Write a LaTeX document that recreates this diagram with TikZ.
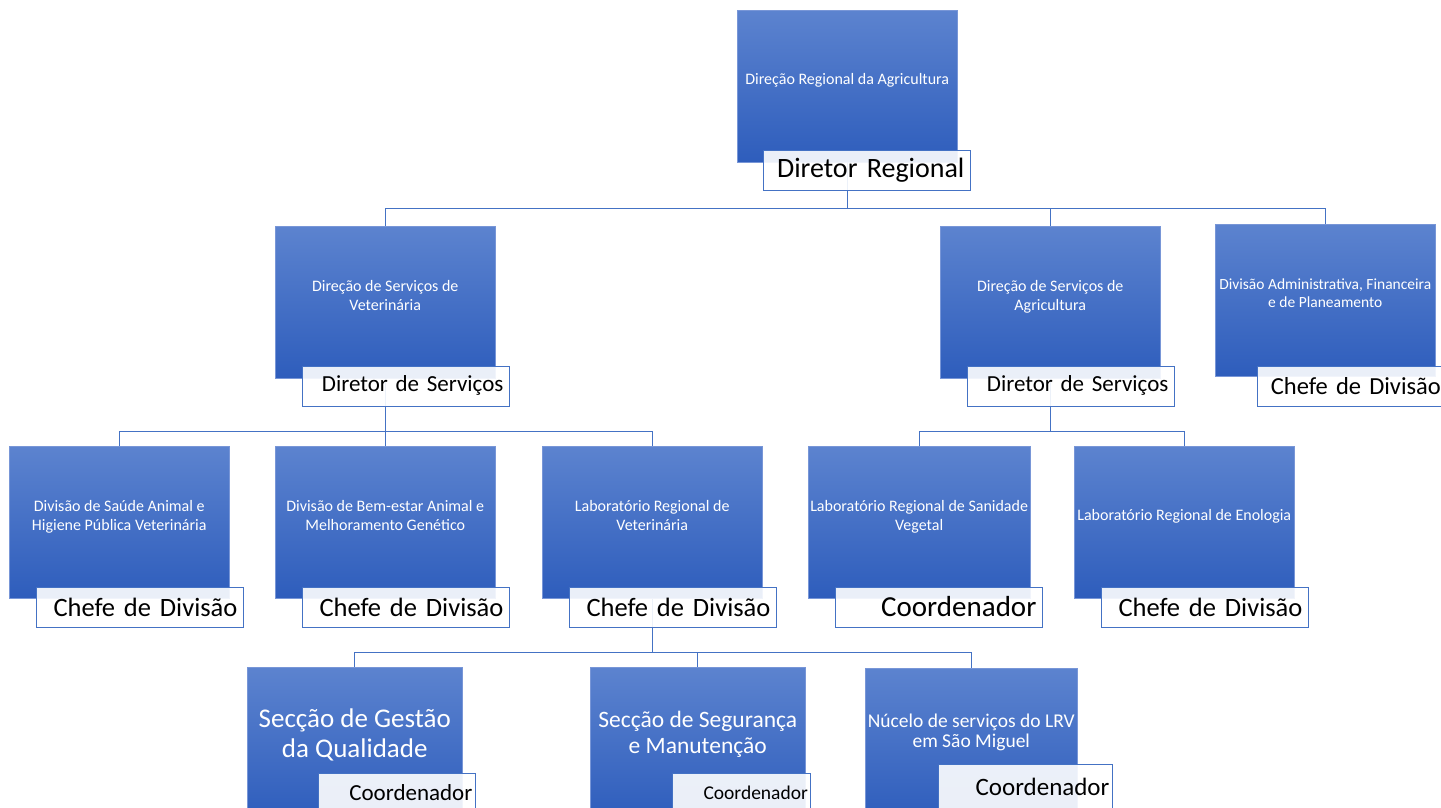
\documentclass[tikz,border=0pt]{standalone}
\usepackage{fontspec}
\setmainfont{Carlito}
\usetikzlibrary{calc,backgrounds}

\begin{document}
\begin{tikzpicture}[
    x=1pt,y=-1pt,
    lift/.style={execute at end node={\rule[-#1]{0pt}{#1}}},
    unit/.style={anchor=north west,top color=unittop,bottom color=unitbot,
      draw=unitline,line width=.5pt,minimum width=220pt,minimum height=152pt,
      inner sep=2pt,align=center,text=white,lift=14pt,
      font=\fontsize{16}{18.5}\selectfont},
    cargo/.style={anchor=north west,fill=white,fill opacity=.9,text opacity=1,
      draw=linkline,line width=.8pt,minimum width=207pt,minimum height=40pt,
      text width=195pt,inner sep=0pt,align=right,text=black,
      font=\fontsize{26.5}{30}\selectfont},
    link/.style={draw=linkline,line width=.8pt}
  ]
  \definecolor{unittop}{RGB}{92,131,207}
  \definecolor{unitbot}{RGB}{46,93,188}
  \definecolor{unitline}{RGB}{120,150,215}
  \definecolor{linkline}{RGB}{68,114,196}
  \useasboundingbox (0,0) rectangle (1441,807);

  % nivel 1
  \node[unit] (dra) at (737,10) {Direção Regional da Agricultura};
  \node[cargo,font=\fontsize{28}{30}\selectfont] (dra-c) at ($(dra.south west)+(26,-13)$) {Diretor Regional};

  % nivel 2
  \node[unit] (dsv) at (275,226) {Direção de Serviços de\\Veterinária};
  \node[cargo,font=\fontsize{23}{28}\selectfont] (dsv-c) at ($(dsv.south west)+(27,-13)$) {Diretor de Serviços};
  \node[unit] (dsa) at (940,226) {Direção de Serviços de\\Agricultura};
  \node[cargo,font=\fontsize{23}{28}\selectfont] (dsa-c) at ($(dsa.south west)+(27,-13)$) {Diretor de Serviços};
  \node[unit,font=\fontsize{15.5}{18}\selectfont] (dafp) at (1215,224) {Divisão Administrativa, Financeira\\e de Planeamento};
  \node[cargo,align=left,text width=194pt,font=\fontsize{24.5}{28}\selectfont] (dafp-c) at ($(dafp.south west)+(42,-11)$) {\hspace*{7pt}Chefe de Divisão};

  % nivel 3
  \node[unit] (dsahpv) at (9,446) {Divisão de Saúde Animal e\\Higiene Pública Veterinária};
  \node[cargo] (dsahpv-c) at ($(dsahpv.south west)+(27,-12)$) {Chefe de Divisão};
  \node[unit] (dbamg) at (275,446) {Divisão de Bem-estar Animal e\\Melhoramento Genético};
  \node[cargo] (dbamg-c) at ($(dbamg.south west)+(27,-12)$) {Chefe de Divisão};
  \node[unit] (lrv) at (542,446) {Laboratório Regional de\\Veterinária};
  \node[cargo] (lrv-c) at ($(lrv.south west)+(27,-12)$) {Chefe de Divisão};
  \node[unit] (lrsv) at (808,446) {Laboratório Regional de Sanidade\\Vegetal};
  \node[cargo,font=\fontsize{29}{31}\selectfont] (lrsv-c) at ($(lrsv.south west)+(27,-12)$) {Coordenador};
  \node[unit] (lre) at (1074,446) {Laboratório Regional de Enologia};
  \node[cargo] (lre-c) at ($(lre.south west)+(27,-12)$) {Chefe de Divisão};

  % nivel 4
  \node[unit,minimum width=215pt,lift=21pt,font=\fontsize{27}{30}\selectfont] (sgq) at (247,667) {Secção de Gestão\\da Qualidade};
  \node[cargo,minimum width=157pt,text width=151pt,font=\fontsize{23}{26}\selectfont] (sgq-c) at ($(sgq.south west)+(71,-47)$) {Coordenador};
  \node[unit,minimum width=215pt,lift=22pt,font=\fontsize{23.5}{26}\selectfont] (ssm) at (590,667) {Secção de Segurança\\e Manutenção};
  \node[cargo,minimum width=138pt,text width=133pt,font=\fontsize{19.5}{22}\selectfont] (ssm-c) at ($(ssm.south west)+(82,-47)$) {Coordenador};
  \node[unit,minimum width=212pt,lift=27pt,font=\fontsize{19.5}{20}\selectfont] (nslrv) at (865,668) {Núcelo de serviços do LRV\\em São Miguel};
  \node[cargo,minimum width=174pt,minimum height=46pt,text width=168pt,font=\fontsize{25}{28}\selectfont] (nslrv-c) at ($(nslrv.south west)+(73,-57)$) {Coordenador};

  \begin{pgfonlayer}{background}
    \foreach \p/\c/\d in {dra/dsv/46,dra/dsa/46,dra/dafp/46,
        dsv/dsahpv/53,dsv/dbamg/53,dsv/lrv/53,dsa/lrsv/53,dsa/lre/53,
        lrv/sgq/54,lrv/ssm/54,lrv/nslrv/54}
      \draw[link] (\p.south) -- ++(0,\d) -| (\c.north);
  \end{pgfonlayer}
\end{tikzpicture}
\end{document}
